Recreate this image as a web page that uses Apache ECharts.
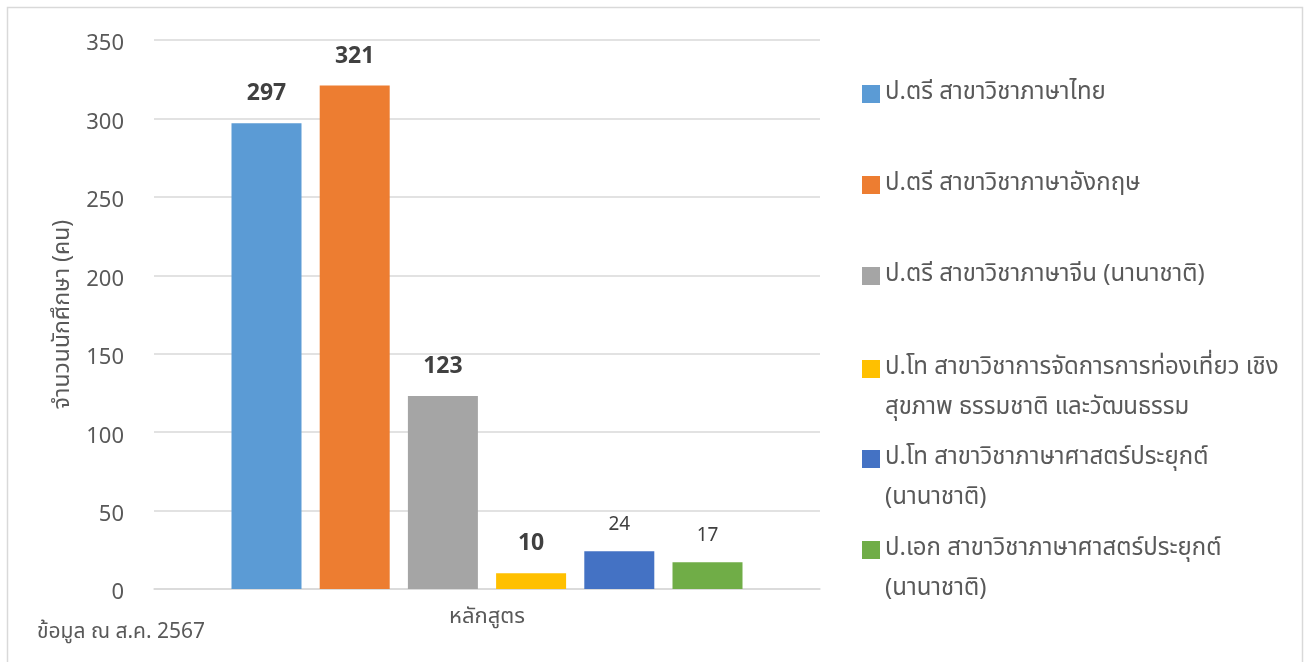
<!DOCTYPE html>
<html>
<head>
<meta charset="utf-8">
<script src="https://cdn.jsdelivr.net/npm/echarts@6/dist/echarts.min.js"></script>
<style>
html,body{margin:0;padding:0;background:#fff;}
#c{width:1309px;height:662px;}
</style>
</head>
<body>
<div id="c"></div>
<script>
const categories = ['หลักสูตร'];
const seriesNames = [
  'ป.ตรี สาขาวิชาภาษาไทย',
  'ป.ตรี สาขาวิชาภาษาอังกฤษ',
  'ป.ตรี สาขาวิชาภาษาจีน (นานาชาติ)',
  'ป.โท สาขาวิชาการจัดการการท่องเที่ยว เชิงสุขภาพ ธรรมชาติ และวัฒนธรรม',
  'ป.โท สาขาวิชาภาษาศาสตร์ประยุกต์ (นานาชาติ)',
  'ป.เอก สาขาวิชาภาษาศาสตร์ประยุกต์ (นานาชาติ)'
];
const legendLines = [
  ['ป.ตรี สาขาวิชาภาษาไทย'],
  ['ป.ตรี สาขาวิชาภาษาอังกฤษ'],
  ['ป.ตรี สาขาวิชาภาษาจีน (นานาชาติ)'],
  ['ป.โท สาขาวิชาการจัดการการท่องเที่ยว เชิง', 'สุขภาพ ธรรมชาติ และวัฒนธรรม'],
  ['ป.โท สาขาวิชาภาษาศาสตร์ประยุกต์', '(นานาชาติ)'],
  ['ป.เอก สาขาวิชาภาษาศาสตร์ประยุกต์', '(นานาชาติ)']
];
const values = [297, 321, 123, 10, 24, 17];
const colors = ['#5B9BD5', '#ED7D31', '#A5A5A5', '#FFC000', '#4472C4', '#70AD47'];
const yTicks = [0, 50, 100, 150, 200, 250, 300, 350];
const yAxisName = 'จำนวนนักศึกษา (คน)';
const noteText = 'ข้อมูล ณ ส.ค. 2567';

const FONT = "'Noto Sans Thai','Noto Sans','Leelawadee UI',Tahoma,sans-serif";
const legendCenters = [94, 185, 276, 369, 459, 550];
const LH = 40;

const chart = echarts.init(document.getElementById('c'), null, {renderer: 'canvas'});

const legends = seriesNames.map((name, i) => {
  const lines = legendLines[i];
  const multi = lines.length > 1;
  // a leading blank line keeps the icon level with the first text line
  const text = multi ? ' \n' + lines.join('\n') : lines[0];
  const half = multi ? LH * 1.5 : LH / 2;
  return {
    data: [name],
    left: 862,
    top: legendCenters[i] - half,
    padding: 0,
    itemWidth: 18,
    itemHeight: 18,
    icon: 'rect',
    selectedMode: false,
    formatter: () => text,
    textStyle: {
      fontFamily: FONT,
      fontSize: 24,
      color: '#595959',
      lineHeight: LH
    }
  };
});

const bigLabel = {fontSize: 23, fontWeight: 'bold'};
const smallLabel = {fontSize: 19, fontWeight: 'normal'};

chart.setOption({
  animation: false,
  backgroundColor: '#fff',
  graphic: [{
    type: 'rect',
    shape: {x: 7.5, y: 7.5, width: 1295, height: 665},
    style: {fill: 'none', stroke: '#d9d9d9', lineWidth: 1.5},
    silent: true
  }],
  title: {
    text: noteText,
    left: 37,
    top: 623,
    padding: 0,
    textStyle: {fontFamily: FONT, fontSize: 21, fontWeight: 'normal', color: '#595959'}
  },
  legend: legends,
  grid: {left: 154, right: 489, top: 40, bottom: 73},
  xAxis: {
    type: 'category',
    data: categories,
    axisTick: {show: false},
    axisLine: {show: true, lineStyle: {color: '#d9d9d9', width: 1.5}},
    axisLabel: {fontFamily: FONT, fontSize: 22, color: '#595959', margin: 19}
  },
  yAxis: {
    type: 'value',
    min: yTicks[0],
    max: yTicks[yTicks.length - 1],
    interval: yTicks[1] - yTicks[0],
    name: yAxisName,
    nameLocation: 'middle',
    nameGap: 78,
    nameTextStyle: {fontFamily: FONT, fontSize: 23, color: '#595959'},
    axisLine: {show: false},
    axisTick: {show: false},
    splitLine: {lineStyle: {color: '#d9d9d9', width: 1.5}},
    axisLabel: {fontFamily: FONT, fontSize: 22, color: '#595959', margin: 30, verticalAlign: 'top', lineHeight: 12}
  },
  series: seriesNames.map((name, i) => ({
    name: name,
    type: 'bar',
    data: [values[i]],
    barWidth: 70,
    barGap: '26%',
    itemStyle: {color: colors[i]},
    label: Object.assign({
      show: true,
      position: 'top',
      distance: 16,
      fontFamily: FONT,
      color: '#404040'
    }, i >= 4 ? smallLabel : bigLabel)
  }))
});
</script>
</body>
</html>
